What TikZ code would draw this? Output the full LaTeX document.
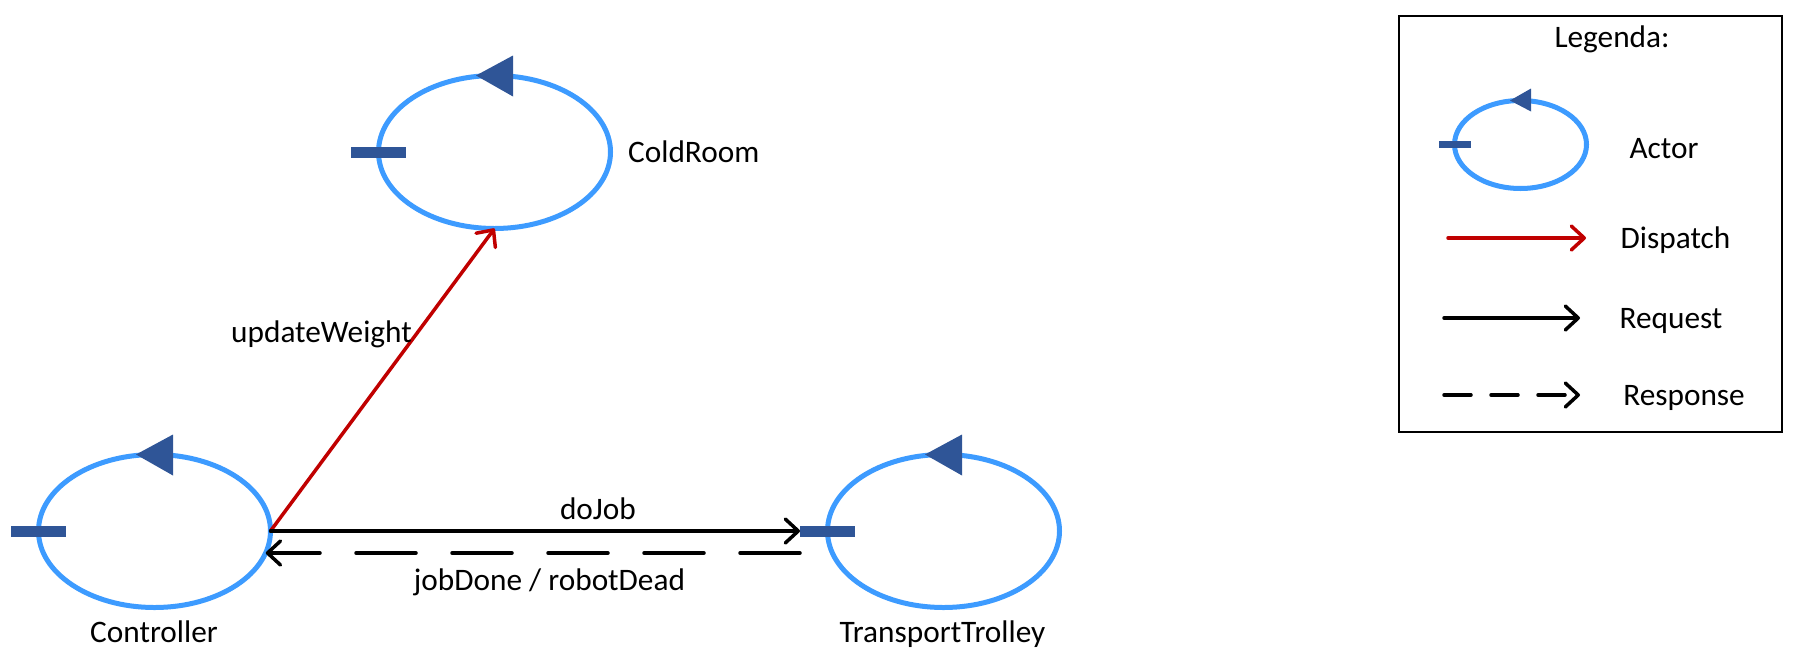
\documentclass[tikz,border=0pt]{standalone}
\usepackage{fontspec}
\setmainfont{Carlito}
\usetikzlibrary{shapes.geometric,arrows.meta,calc}
\definecolor{actorblue}{RGB}{61,155,255}
\definecolor{actordark}{RGB}{47,85,151}
\definecolor{dispred}{RGB}{192,0,0}
\begin{document}
\begin{tikzpicture}[x=1pt,y=-1pt,
  actor/.style={ellipse, draw=actorblue, line width=5pt, minimum width=232pt, minimum height=153pt, inner sep=0pt, outer sep=0pt},
  lactor/.style={actor, minimum width=132pt, minimum height=88pt},
  port/.style={rectangle, fill=actordark, minimum width=55pt, minimum height=11pt, inner sep=0pt, outer sep=0pt},
  lport/.style={port, minimum width=32pt, minimum height=7pt},
  lbl/.style={font=\fontsize{31.3}{37}\selectfont, inner sep=0pt, anchor=base},
  msg/.style={line width=3.5pt, line cap=round, -{Straight Barb[length=13pt,width=24pt,round]}},
  dispatch/.style={msg, draw=dispred},
  request/.style={msg, draw=black},
  response/.style={msg, draw=black, dash pattern=on 60pt off 36pt},
  lresponse/.style={msg, draw=black, dash pattern=on 27pt off 20pt},
  tri/.style={fill=actordark},
]
\useasboundingbox (0,0) rectangle (1806,656);

% actors
\node[actor] (ctrl) at (154.5,531) {};
\node[actor] (cold) at (494.5,152) {};
\node[actor] (tt) at (943.5,531) {};

\node[port] (ctrlbar) at (ctrl.west) {};
\node[port] (coldbar) at (cold.west) {};
\node[port] (ttbar) at (tt.west) {};

\foreach \a in {ctrl,cold,tt}{
  \fill[tri] ($(\a.north)+(-18.5,0)$) -- ($(\a.north)+(18.5,-20)$) -- ($(\a.north)+(18.5,21)$) -- cycle;
}

% labels
\node[lbl, anchor=base west] (coldlbl) at (628,162) {ColdRoom};
\node[lbl] (ctrllbl) at (154,642) {Controller};
\node[lbl] (ttlbl) at (942.5,642) {TransportTrolley};

% messages
\draw[dispatch] (ctrl.east) -- (cold.south);
\draw[request] (ctrl.east) -- (ttbar.west);
\coordinate (respstart) at ($(ttbar.west)+(0,22)$);
\draw[response] (respstart) -- (ctrl.-11 |- respstart);

\node[lbl] (updlbl) at (321.5,342) {updateWeight};
\node[lbl] (dolbl) at (598,519) {doJob};
\node[lbl] (joblbl) at (549.5,590) {jobDone / robotDead};

% legend
\node[draw=black, line width=2.5pt, minimum width=383pt, minimum height=416pt, inner sep=0pt, outer sep=0pt] (legendbox) at (1590.5,224) {};
\node[lbl] (legtitle) at (1612,47) {Legenda:};
\node[lactor] (lact) at (1520.5,144.5) {};
\node[lport] (lactbar) at (lact.west) {};
\fill[tri] ($(lact.north)+(-10.5,0)$) -- ($(lact.north)+(10.5,-12)$) -- ($(lact.north)+(10.5,11)$) -- cycle;
\node[lbl] (lactlbl) at (1664,158) {Actor};

\coordinate (ld1) at (1448,238);
\coordinate (ld2) at (1586,238);
\draw[dispatch] (ld1) -- (ld2);
\node[lbl] (ldlbl) at (1675.5,248) {Dispatch};

\coordinate (lr1) at (1444,318);
\coordinate (lr2) at (1580,318);
\draw[request] (lr1) -- (lr2);
\node[lbl] (lrlbl) at (1671,328) {Request};

\coordinate (ls1) at (1444,395);
\coordinate (ls2) at (1580,395);
\draw[lresponse] (ls1) -- (ls2);
\node[lbl] (lslbl) at (1684,405) {Response};
\end{tikzpicture}
\end{document}
